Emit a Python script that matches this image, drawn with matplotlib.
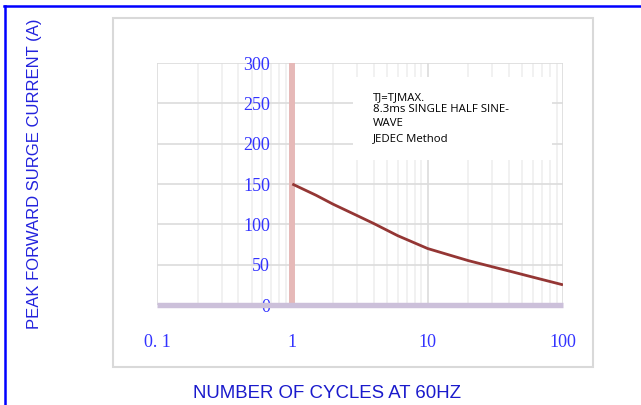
import matplotlib.pyplot as plt
from matplotlib.patches import Rectangle
from matplotlib.lines import Line2D
from matplotlib.ticker import LogLocator, NullFormatter

# curve
cycles = [1, 1.5, 2, 3, 4, 6, 8, 10, 15, 20, 30, 40, 60, 100]
current = [150, 136, 125, 111, 101, 86, 77, 70, 61.2, 55, 47.4, 42.1, 34.5, 25]

x_ticks = [0.1, 1, 10, 100]
x_labels = ['0. 1', '1', '10', '100']
y_ticks = [0, 50, 100, 150, 200, 250, 300]

note_lines = ['TJ=TJMAX.', '8.3ms SINGLE HALF SINE-', 'WAVE', 'JEDEC Method']
note_y = [0.859, 0.806, 0.748, 0.686]

fig = plt.figure(figsize=(6.41, 4.05), dpi=100)
ax = fig.add_axes([0.2449, 0.2469, 0.6334, 0.5975])

# outer frame pieces
fig.add_artist(Line2D([0.007, 1.0], [0.985, 0.985], color='#0000ff', lw=1.8))
fig.add_artist(Line2D([0.008, 0.008], [0.0, 0.985], color='#0000ff', lw=1.8))
fig.add_artist(Rectangle((113/641, 1-367/405), 480/641, 349/405, fill=False,
                         edgecolor='#d9d9d9', lw=1.5))

ax.plot(cycles, current, color='#943634', lw=2, zorder=4,
        solid_joinstyle='round', solid_capstyle='butt')

ax.set_xscale('log')
ax.set_xlim(0.1, 100)
ax.set_ylim(0, 300)
ax.set_xticks(x_ticks)
ax.set_xticklabels(x_labels)
ax.xaxis.set_minor_locator(LogLocator(base=10, subs=range(2, 10)))
ax.xaxis.set_minor_formatter(NullFormatter())
ax.set_yticks(y_ticks)

ax.grid(True, which='major', color='#dcdcdc', lw=1.2)
ax.grid(True, which='minor', axis='x', color='#efefef', lw=1.2)
ax.set_axisbelow(True)

for s in ['top', 'right']:
    ax.spines[s].set_visible(False)
ax.spines['left'].set_position(('data', 1))
ax.spines['left'].set_color('#e6b9b8')
ax.spines['left'].set_linewidth(4.3)
ax.spines['left'].set_capstyle('butt')
ax.spines['left'].set_zorder(3)
ax.spines['bottom'].set_color('#ccc0da')
ax.spines['bottom'].set_linewidth(3.9)
ax.spines['bottom'].set_capstyle('butt')
ax.spines['bottom'].set_zorder(3)

ax.tick_params(which='both', length=0)
ax.tick_params(axis='y', pad=16, labelsize=13, labelcolor='#3333ff')
ax.tick_params(axis='x', pad=21, labelsize=13, labelcolor='#3333ff')
for lab in ax.get_xticklabels() + ax.get_yticklabels():
    lab.set_fontfamily('Liberation Serif')

# white note box
ax.add_patch(Rectangle((0.483, 0.6), 0.49, 0.342, transform=ax.transAxes,
                       facecolor='white', edgecolor='none', zorder=2))
for line, yy in zip(note_lines, note_y):
    ax.text(0.532, yy, line, transform=ax.transAxes, fontsize=8.2,
            family='Open Sans', va='center', ha='left', zorder=5)

fig.text(35/641, 1-174/405, 'PEAK FORWARD SURGE CURRENT (A)', rotation=90,
         ha='center', va='center', fontsize=12, color='#2222dd',
         family='Liberation Sans')
fig.text(327/641, 1-393/405, 'NUMBER OF CYCLES AT 60HZ', ha='center',
         va='center', fontsize=13.4, color='#1a1acc', family='Liberation Sans')

fig.savefig('out.png', dpi=100)
